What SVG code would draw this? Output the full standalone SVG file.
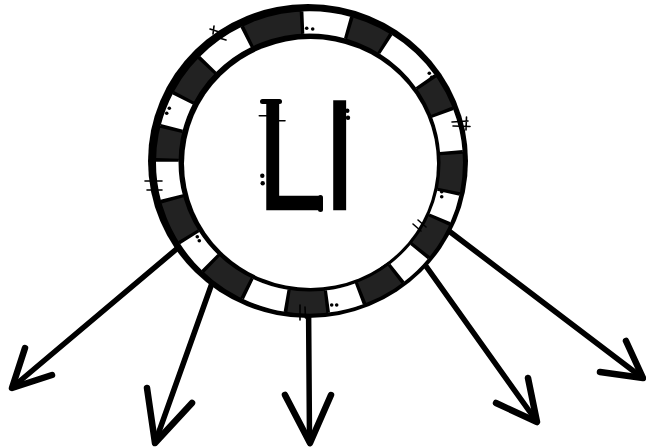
<svg xmlns="http://www.w3.org/2000/svg" width="646" height="448" viewBox="0 0 646 448">
<style>
.shaft{fill:none;stroke:#000;stroke-width:5.5;stroke-linecap:round}
.head{fill:none;stroke:#000;stroke-width:6.5;stroke-linecap:round;stroke-linejoin:round}
.tick{stroke:#000;stroke-width:1.6;stroke-linecap:round;fill:none}
.dot{fill:#000}
.thin{fill:none;stroke:#000;stroke-width:1}
</style>
<rect width="646" height="448" fill="#fff"/>
<g id="connectors">
<line class="shaft" x1="192" y1="236" x2="14" y2="386"/>
<polyline class="head" points="25,348 12,388 52,375"/>
<line class="shaft" x1="216" y1="272" x2="156" y2="440"/>
<polyline class="head" points="147,388 155,443 192,403"/>
<line class="shaft" x1="308.5" y1="300" x2="309.5" y2="440"/>
<polyline class="head" points="285,395 310,443 331,395"/>
<line class="shaft" x1="418" y1="255" x2="535" y2="419"/>
<polyline class="head" points="496,403 537,422 528,378"/>
<line class="shaft" x1="445" y1="228" x2="640" y2="376"/>
<polyline class="head" points="600,372 643,378 626,341"/>
</g>
<g id="li-badge">
<ellipse cx="308" cy="161" rx="160" ry="157" fill="#000"/>
<g transform="translate(309.5,162.5) scale(1,0.985)">
<circle r="142.25" fill="none" stroke="#222" stroke-width="22.5"/>
<circle r="142.25" fill="none" stroke="#fff" stroke-width="22.5" pathLength="360" stroke-dasharray="0 12 12 15 13.5 16.5 14 16 17 18 14 17 16 13 13.5 16.5 20 23 19 16 23 14 17 4"/>
<circle r="142.25" fill="none" stroke="#000" stroke-width="23" pathLength="360" stroke-dasharray="0 11.3 1.4 10.6 1.4 13.6 1.4 12.1 1.4 15.1 1.4 12.6 1.4 14.6 1.4 15.6 1.4 16.6 1.4 12.6 1.4 15.6 1.4 14.6 1.4 11.6 1.4 12.1 1.4 15.1 1.4 18.6 1.4 21.6 1.4 17.6 1.4 14.6 1.4 21.6 1.4 12.6 1.4 15.6 1.4 3.3"/>
</g>
<ellipse cx="310.5" cy="163.5" rx="126.5" ry="124.5" fill="#fff"/>
<path class="thin" d="M345,42 Q375,50 397,70"/>
<path class="thin" d="M380,268 Q400,256 412,240"/>
<path class="tick" d="M210,29 L218.5,31.7 M218.3,37.7 L226,40 M214,26 L213,34"/>
<path class="tick" d="M452,122 L468,121 M453,126 L470,126.5 M466.5,117 L466,130"/>
<path class="tick" d="M145,181 L162,181 M147,190 L162,190"/>
<path class="tick" d="M300,305 L300,320 M305,307 L305.5,318"/>
<path class="tick" d="M413,224 L421,231 M418,220 L426,227"/>
<circle class="dot" cx="306.7" cy="28.3" r="1.8"/><circle class="dot" cx="312.7" cy="29" r="1.8"/>
<circle class="dot" cx="429.3" cy="73.3" r="1.8"/><circle class="dot" cx="431.7" cy="77.3" r="1.8"/>
<circle class="dot" cx="441.7" cy="191.7" r="1.8"/><circle class="dot" cx="441.7" cy="196.7" r="1.8"/>
<circle class="dot" cx="331.7" cy="305" r="1.8"/><circle class="dot" cx="336.7" cy="305" r="1.8"/>
<circle class="dot" cx="197.3" cy="236.7" r="1.8"/><circle class="dot" cx="199.3" cy="240.7" r="1.8"/>
<circle class="dot" cx="169.3" cy="108.3" r="1.8"/><circle class="dot" cx="166.7" cy="113.3" r="1.8"/>
<text x="257.4" y="209" font-family="'Liberation Sans', Arial, sans-serif" font-size="155" textLength="98.6" lengthAdjust="spacingAndGlyphs" fill="#000" stroke="#000" stroke-width="2.5">LI</text>
<rect x="260" y="99" width="22" height="5" rx="2.5" fill="#000"/>
<rect x="318" y="195" width="5" height="17" rx="2.5" fill="#000"/>
<path class="tick" d="M259.3,115.7 L276.7,115.7 M269.3,120.7 L285,120.7"/>
<circle class="dot" cx="262.3" cy="175.7" r="2.2"/><circle class="dot" cx="262.7" cy="183.3" r="2.2"/>
<circle class="dot" cx="347.3" cy="110.7" r="2.2"/><circle class="dot" cx="348" cy="117.7" r="2.2"/>
</g>
</svg>
